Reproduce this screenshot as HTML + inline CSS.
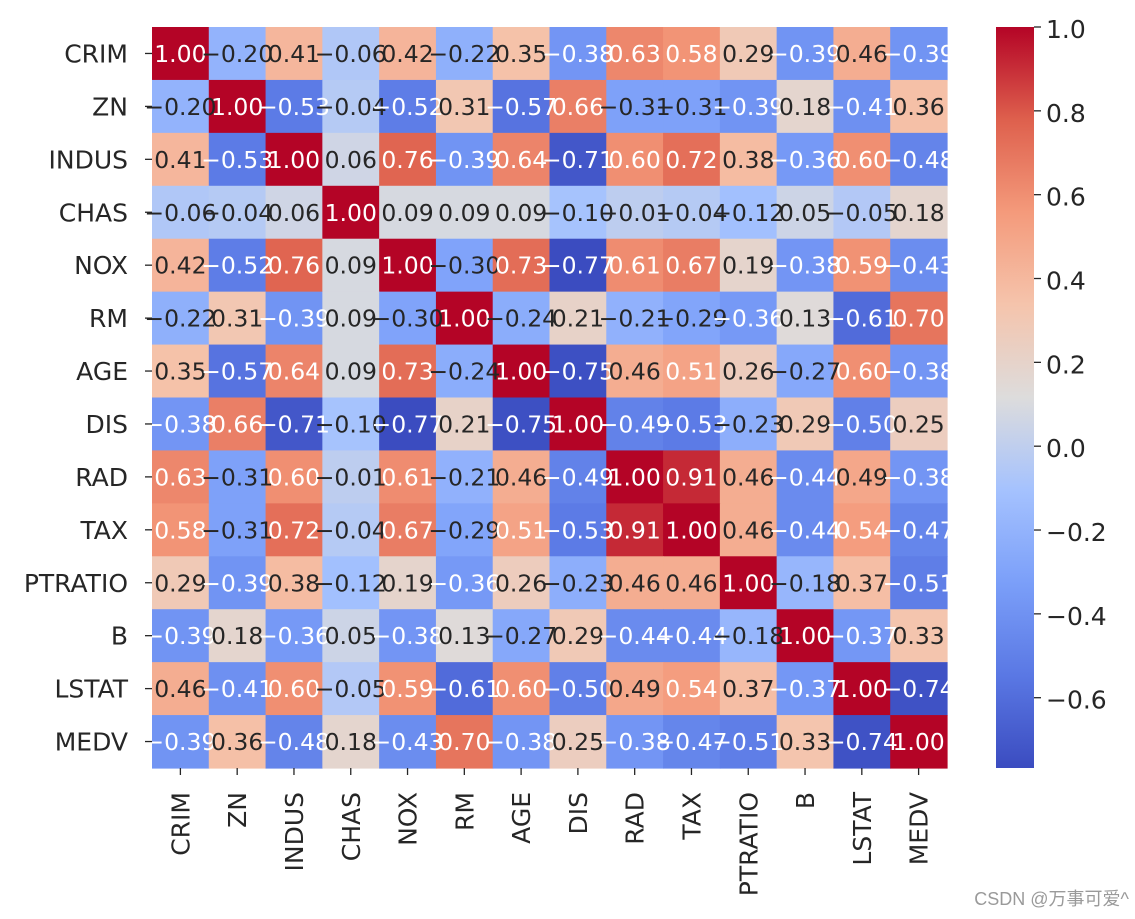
<!DOCTYPE html>
<html><head><meta charset="utf-8"><style>
html,body{margin:0;padding:0;background:#fff;}
svg{display:block;}
text{font-family:"DejaVu Sans","Liberation Sans",sans-serif;}
</style></head><body>
<svg id="chart" width="1135" height="919" viewBox="0 0 1135 919" xmlns="http://www.w3.org/2000/svg">
<defs>
<linearGradient id="cbgrad" x1="0" y1="1" x2="0" y2="0">
<stop offset="0" stop-color="#3b4cc0"/><stop offset="0.125" stop-color="#5a78e4"/><stop offset="0.25" stop-color="#7b9ff9"/><stop offset="0.375" stop-color="#a5c2fe"/><stop offset="0.5" stop-color="#dddcdc"/><stop offset="0.625" stop-color="#f5c4ac"/><stop offset="0.75" stop-color="#f49a7b"/><stop offset="0.875" stop-color="#de604d"/><stop offset="1" stop-color="#b40426"/>
</linearGradient>
</defs>
<g id="cells"></g>
<g id="yaxis"></g>
<g id="xaxis"></g>
<rect x="996" y="27" width="38" height="741" fill="url(#cbgrad)"/>
<g id="cbaxis"></g>
<text x="1129" y="905" text-anchor="end" font-size="18" fill="#9a9a9a" style="font-family:'Liberation Sans','Noto Sans CJK SC',sans-serif">CSDN @万事可爱^</text>
</svg>
<script>
const labels = ["CRIM","ZN","INDUS","CHAS","NOX","RM","AGE","DIS","RAD","TAX","PTRATIO","B","LSTAT","MEDV"];
const rowCRIM = [1.00,-0.20,0.41,-0.06,0.42,-0.22,0.35,-0.38,0.63,0.58,0.29,-0.39,0.46,-0.39];
const rowZN = [-0.20,1.00,-0.53,-0.04,-0.52,0.31,-0.57,0.66,-0.31,-0.31,-0.39,0.18,-0.41,0.36];
const rowINDUS = [0.41,-0.53,1.00,0.06,0.76,-0.39,0.64,-0.71,0.60,0.72,0.38,-0.36,0.60,-0.48];
const rowCHAS = [-0.06,-0.04,0.06,1.00,0.09,0.09,0.09,-0.10,-0.01,-0.04,-0.12,0.05,-0.05,0.18];
const rowNOX = [0.42,-0.52,0.76,0.09,1.00,-0.30,0.73,-0.77,0.61,0.67,0.19,-0.38,0.59,-0.43];
const rowRM = [-0.22,0.31,-0.39,0.09,-0.30,1.00,-0.24,0.21,-0.21,-0.29,-0.36,0.13,-0.61,0.70];
const rowAGE = [0.35,-0.57,0.64,0.09,0.73,-0.24,1.00,-0.75,0.46,0.51,0.26,-0.27,0.60,-0.38];
const rowDIS = [-0.38,0.66,-0.71,-0.10,-0.77,0.21,-0.75,1.00,-0.49,-0.53,-0.23,0.29,-0.50,0.25];
const rowRAD = [0.63,-0.31,0.60,-0.01,0.61,-0.21,0.46,-0.49,1.00,0.91,0.46,-0.44,0.49,-0.38];
const rowTAX = [0.58,-0.31,0.72,-0.04,0.67,-0.29,0.51,-0.53,0.91,1.00,0.46,-0.44,0.54,-0.47];
const rowPTRATIO = [0.29,-0.39,0.38,-0.12,0.19,-0.36,0.26,-0.23,0.46,0.46,1.00,-0.18,0.37,-0.51];
const rowB = [-0.39,0.18,-0.36,0.05,-0.38,0.13,-0.27,0.29,-0.44,-0.44,-0.18,1.00,-0.37,0.33];
const rowLSTAT = [0.46,-0.41,0.60,-0.05,0.59,-0.61,0.60,-0.50,0.49,0.54,0.37,-0.37,1.00,-0.74];
const rowMEDV = [-0.39,0.36,-0.48,0.18,-0.43,0.70,-0.38,0.25,-0.38,-0.47,-0.51,0.33,-0.74,1.00];
const cbTicks = [1.0,0.8,0.6,0.4,0.2,0.0,-0.2,-0.4,-0.6];
const vmin = -0.7677, vmax = 1.0;

const matrix = [rowCRIM,rowZN,rowINDUS,rowCHAS,rowNOX,rowRM,rowAGE,rowDIS,rowRAD,rowTAX,rowPTRATIO,rowB,rowLSTAT,rowMEDV];
const NS = "http://www.w3.org/2000/svg";
const L = 152, T = 27, W = 795, H = 741;
const n = labels.length, cw = W / n, ch = H / n;
const xPos = i => L + i * cw;
const yPos = i => T + i * ch;
const cbY = v => T + (vmax - v) / (vmax - vmin) * H;
const stops = [[59,76,192],[90,120,228],[123,159,249],[165,194,254],[221,220,220],[245,196,172],[244,154,123],[222,96,77],[180,4,38]];
function cmap(v){
  let t = (v - vmin) / (vmax - vmin); t = Math.max(0, Math.min(1, t));
  const p = t * (stops.length - 1), k = Math.min(Math.floor(p), stops.length - 2), f = p - k;
  const c = stops[k].map((a, j) => Math.round(a + (stops[k+1][j] - a) * f));
  return "rgb(" + c.join(",") + ")";
}
function mk(tag, attrs, parent){ const e = document.createElementNS(NS, tag); for (const k in attrs) e.setAttribute(k, attrs[k]); parent.appendChild(e); return e; }
const fmt = v => (v < 0 ? "\u2212" : "") + Math.abs(v).toFixed(2);
const cells = document.getElementById("cells");
matrix.forEach((row, r) => row.forEach((v, c) => {
  const rc = mk("rect", {x: xPos(c), y: yPos(r), width: cw + 0.6, height: ch + 0.6, fill: cmap(v)}, cells);
  
  
}));
matrix.forEach((row, r) => row.forEach((v, c) => {
  const dark = v > -0.35 && v < 0.5;
  const tx = mk("text", {x: xPos(c) + cw/2, y: yPos(r) + ch/2 + 8.5, "text-anchor": "middle", "font-size": 23.5, fill: dark ? "#262626" : "#ffffff"}, cells);
  tx.textContent = fmt(v);
  
  
}));
const ya = document.getElementById("yaxis"), xa = document.getElementById("xaxis");
labels.forEach((lab, i) => {
  const cy = yPos(i) + ch/2;
  mk("line", {x1: L - 7, x2: L, y1: cy, y2: cy, stroke: "#262626", "stroke-width": 1.3}, ya);
  const t = mk("text", {x: L - 24, y: cy + 9, "text-anchor": "end", "font-size": 25, fill: "#262626"}, ya);
  t.textContent = lab;
  
  
  const cx = xPos(i) + cw/2;
  mk("line", {x1: cx, x2: cx, y1: T + H, y2: T + H + 7, stroke: "#262626", "stroke-width": 1.3}, xa);
  const xt = mk("text", {x: 0, y: 0, "text-anchor": "end", "font-size": 25, fill: "#262626", transform: "translate(" + (cx + 9) + "," + (T + H + 24) + ") rotate(-90)"}, xa);
  xt.textContent = lab;
  
  
});
const cba = document.getElementById("cbaxis");
cbTicks.forEach(v => {
  const y = cbY(v);
  mk("line", {x1: 1034, x2: 1041, y1: y, y2: y, stroke: "#262626", "stroke-width": 1.3}, cba);
  const t = mk("text", {x: 1046, y: y + 11, "font-size": 25, fill: "#262626"}, cba);
  t.textContent = (v < 0 ? "\u2212" : "") + Math.abs(v).toFixed(1);
  
  
});
</script>
</body></html>
